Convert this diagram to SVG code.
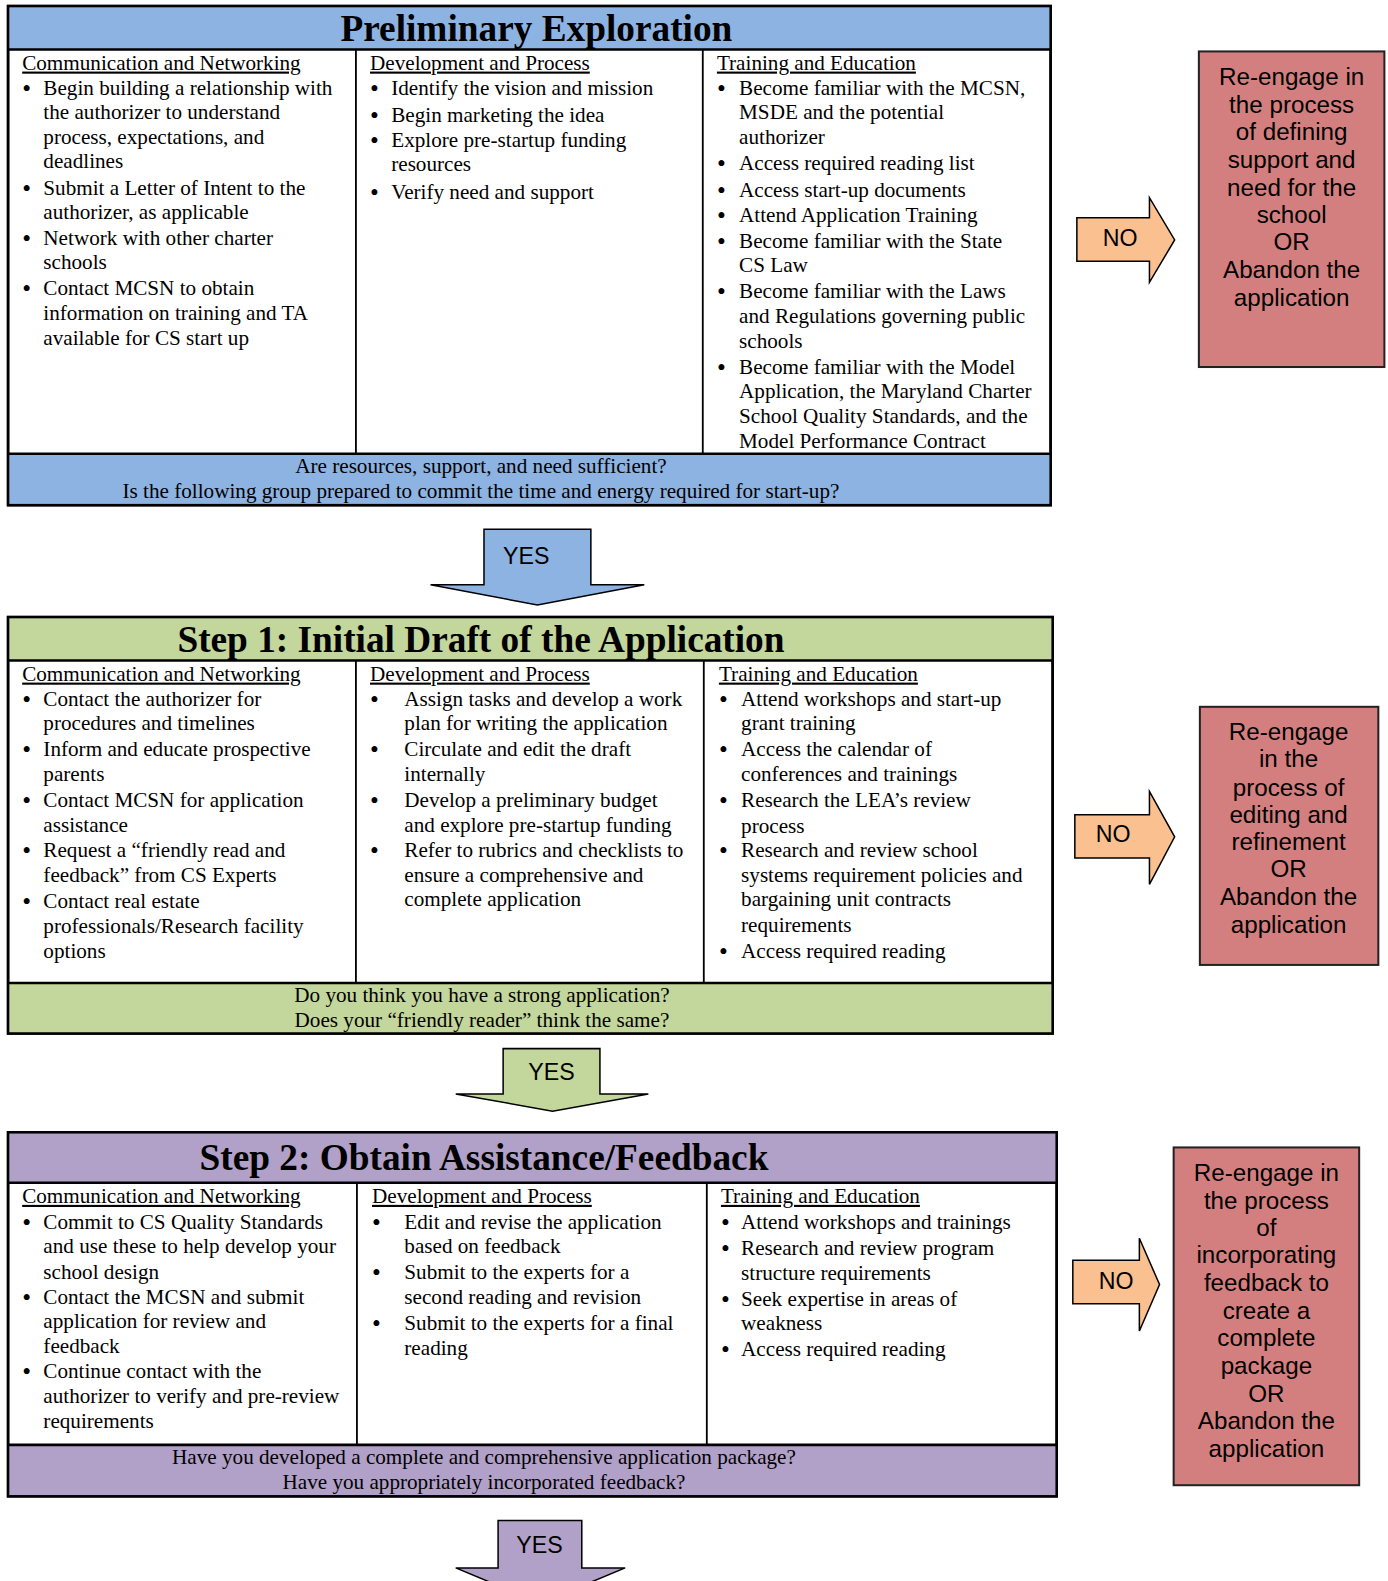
<svg xmlns="http://www.w3.org/2000/svg" width="1388" height="1581" viewBox="0 0 1388 1581">
<style>
.t{font-family:"Liberation Serif","Times New Roman",serif;font-size:21px;fill:#000}
.b{font-family:"Liberation Serif","Times New Roman",serif;font-size:25px;fill:#000}
.h{text-decoration:underline}
.c{text-anchor:middle}
.title{font-family:"Liberation Serif","Times New Roman",serif;font-size:37px;font-weight:bold;text-anchor:middle;fill:#000}
.a{font-family:"Liberation Sans",Arial,sans-serif;font-size:24px;text-anchor:middle;fill:#000}
.lab{font-family:"Liberation Sans",Arial,sans-serif;font-size:23px;text-anchor:middle;fill:#000}
.frame{fill:#fff;stroke:#000;stroke-width:2.5}
.ln{stroke:#000;stroke-width:2.5}
.div{stroke:#000;stroke-width:1.8}
.blue{fill:#8DB3E2}
.green{fill:#C3D69B}
.purple{fill:#B1A0C7}
.red{fill:#D47F7F;stroke:#222;stroke-width:2}
.arr{stroke:#000;stroke-width:1.5;stroke-linejoin:miter}
</style>
<g transform="scale(1.00829)">
<g id="prelim">
<rect class="frame" x="8" y="6" width="1034" height="495"/>
<rect class="blue" x="8" y="6" width="1034" height="43"/>
<rect class="blue" x="8" y="450" width="1034" height="51"/>
<rect x="8" y="6" width="1034" height="495" fill="none" stroke="#000" stroke-width="2.5"/>
<line class="ln" x1="8" y1="49" x2="1042" y2="49"/>
<line class="ln" x1="8" y1="450" x2="1042" y2="450"/>
<line class="div" x1="353" y1="49" x2="353" y2="450"/>
<line class="div" x1="697" y1="49" x2="697" y2="450"/>
<text class="title" x="532" y="41">Preliminary Exploration</text>
<text class="t h" x="22" y="69">Communication and Networking</text>
<text class="b" x="22" y="96">•</text><text class="t" x="43" y="94">Begin building a relationship with</text>
<text class="t" x="43" y="118">the authorizer to understand</text>
<text class="t" x="43" y="143">process, expectations, and</text>
<text class="t" x="43" y="167">deadlines</text>
<text class="b" x="22" y="195">•</text><text class="t" x="43" y="193">Submit a Letter of Intent to the</text>
<text class="t" x="43" y="217">authorizer, as applicable</text>
<text class="b" x="22" y="245">•</text><text class="t" x="43" y="243">Network with other charter</text>
<text class="t" x="43" y="267">schools</text>
<text class="b" x="22" y="295">•</text><text class="t" x="43" y="293">Contact MCSN to obtain</text>
<text class="t" x="43" y="317">information on training and TA</text>
<text class="t" x="43" y="342">available for CS start up</text>

<text class="t h" x="367" y="69">Development and Process</text>
<text class="b" x="367" y="96">•</text><text class="t" x="388" y="94">Identify the vision and mission</text>
<text class="b" x="367" y="123">•</text><text class="t" x="388" y="121">Begin marketing the idea</text>
<text class="b" x="367" y="148">•</text><text class="t" x="388" y="146">Explore pre-startup funding</text>
<text class="t" x="388" y="170">resources</text>
<text class="b" x="367" y="199">•</text><text class="t" x="388" y="197">Verify need and support</text>

<text class="t h" x="711" y="69">Training and Education</text>
<text class="b" x="711" y="96">•</text><text class="t" x="733" y="94">Become familiar with the MCSN,</text>
<text class="t" x="733" y="118">MSDE and the potential</text>
<text class="t" x="733" y="143">authorizer</text>
<text class="b" x="711" y="171">•</text><text class="t" x="733" y="169">Access required reading list</text>
<text class="b" x="711" y="197">•</text><text class="t" x="733" y="195">Access start-up documents</text>
<text class="b" x="711" y="222">•</text><text class="t" x="733" y="220">Attend Application Training</text>
<text class="b" x="711" y="248">•</text><text class="t" x="733" y="246">Become familiar with the State</text>
<text class="t" x="733" y="270">CS Law</text>
<text class="b" x="711" y="298">•</text><text class="t" x="733" y="296">Become familiar with the Laws</text>
<text class="t" x="733" y="320">and Regulations governing public</text>
<text class="t" x="733" y="345">schools</text>
<text class="b" x="711" y="373">•</text><text class="t" x="733" y="371">Become familiar with the Model</text>
<text class="t" x="733" y="395">Application, the Maryland Charter</text>
<text class="t" x="733" y="420">School Quality Standards, and the</text>
<text class="t" x="733" y="444">Model Performance Contract</text>

<text class="t c" x="477" y="469">Are resources, support, and need sufficient?</text>
<text class="t c" x="477" y="494">Is the following group prepared to commit the time and energy required for start-up?</text>
</g>

<g id="step1">
<rect class="frame" x="8" y="612" width="1036" height="413"/>
<rect class="green" x="8" y="612" width="1036" height="43"/>
<rect class="green" x="8" y="975" width="1036" height="50"/>
<rect x="8" y="612" width="1036" height="413" fill="none" stroke="#000" stroke-width="2.5"/>
<line class="ln" x1="8" y1="655" x2="1044" y2="655"/>
<line class="ln" x1="8" y1="975" x2="1044" y2="975"/>
<line class="div" x1="353" y1="655" x2="353" y2="975"/>
<line class="div" x1="698" y1="655" x2="698" y2="975"/>
<text class="title" x="477" y="647">Step 1: Initial Draft of the Application</text>
<text class="t h" x="22" y="675">Communication and Networking</text>
<text class="b" x="22" y="702">•</text><text class="t" x="43" y="700">Contact the authorizer for</text>
<text class="t" x="43" y="724">procedures and timelines</text>
<text class="b" x="22" y="752">•</text><text class="t" x="43" y="750">Inform and educate prospective</text>
<text class="t" x="43" y="775">parents</text>
<text class="b" x="22" y="802">•</text><text class="t" x="43" y="800">Contact MCSN for application</text>
<text class="t" x="43" y="825">assistance</text>
<text class="b" x="22" y="852">•</text><text class="t" x="43" y="850">Request a “friendly read and</text>
<text class="t" x="43" y="875">feedback” from CS Experts</text>
<text class="b" x="22" y="903">•</text><text class="t" x="43" y="901">Contact real estate</text>
<text class="t" x="43" y="925">professionals/Research facility</text>
<text class="t" x="43" y="950">options</text>

<text class="t h" x="367" y="675">Development and Process</text>
<text class="b" x="367" y="702">•</text><text class="t" x="401" y="700">Assign tasks and develop a work</text>
<text class="t" x="401" y="724">plan for writing the application</text>
<text class="b" x="367" y="752">•</text><text class="t" x="401" y="750">Circulate and edit the draft</text>
<text class="t" x="401" y="775">internally</text>
<text class="b" x="367" y="802">•</text><text class="t" x="401" y="800">Develop a preliminary budget</text>
<text class="t" x="401" y="825">and explore pre-startup funding</text>
<text class="b" x="367" y="852">•</text><text class="t" x="401" y="850">Refer to rubrics and checklists to</text>
<text class="t" x="401" y="875">ensure a comprehensive and</text>
<text class="t" x="401" y="899">complete application</text>

<text class="t h" x="713" y="675">Training and Education</text>
<text class="b" x="713" y="702">•</text><text class="t" x="735" y="700">Attend workshops and start-up</text>
<text class="t" x="735" y="724">grant training</text>
<text class="b" x="713" y="752">•</text><text class="t" x="735" y="750">Access the calendar of</text>
<text class="t" x="735" y="775">conferences and trainings</text>
<text class="b" x="713" y="802">•</text><text class="t" x="735" y="800">Research the LEA’s review</text>
<text class="t" x="735" y="826">process</text>
<text class="b" x="713" y="852">•</text><text class="t" x="735" y="850">Research and review school</text>
<text class="t" x="735" y="875">systems requirement policies and</text>
<text class="t" x="735" y="899">bargaining unit contracts</text>
<text class="t" x="735" y="924">requirements</text>
<text class="b" x="713" y="952">•</text><text class="t" x="735" y="950">Access required reading</text>

<text class="t c" x="478" y="994">Do you think you have a strong application?</text>
<text class="t c" x="478" y="1019">Does your “friendly reader” think the same?</text>
</g>

<g id="step2">
<rect class="frame" x="8" y="1123" width="1040" height="361"/>
<rect class="purple" x="8" y="1123" width="1040" height="50"/>
<rect class="purple" x="8" y="1433" width="1040" height="51"/>
<rect x="8" y="1123" width="1040" height="361" fill="none" stroke="#000" stroke-width="2.5"/>
<line class="ln" x1="8" y1="1173" x2="1048" y2="1173"/>
<line class="ln" x1="8" y1="1433" x2="1048" y2="1433"/>
<line class="div" x1="354" y1="1173" x2="354" y2="1433"/>
<line class="div" x1="701" y1="1173" x2="701" y2="1433"/>
<text class="title" x="480" y="1160">Step 2: Obtain Assistance/Feedback</text>
<text class="t h" x="22" y="1193">Communication and Networking</text>
<text class="b" x="22" y="1221">•</text><text class="t" x="43" y="1219">Commit to CS Quality Standards</text>
<text class="t" x="43" y="1243">and use these to help develop your</text>
<text class="t" x="43" y="1268">school design</text>
<text class="b" x="22" y="1295">•</text><text class="t" x="43" y="1293">Contact the MCSN and submit</text>
<text class="t" x="43" y="1317">application for review and</text>
<text class="t" x="43" y="1342">feedback</text>
<text class="b" x="22" y="1369">•</text><text class="t" x="43" y="1367">Continue contact with the</text>
<text class="t" x="43" y="1391">authorizer to verify and pre-review</text>
<text class="t" x="43" y="1416">requirements</text>

<text class="t h" x="369" y="1193">Development and Process</text>
<text class="b" x="369" y="1221">•</text><text class="t" x="401" y="1219">Edit and revise the application</text>
<text class="t" x="401" y="1243">based on feedback</text>
<text class="b" x="369" y="1270">•</text><text class="t" x="401" y="1268">Submit to the experts for a</text>
<text class="t" x="401" y="1293">second reading and revision</text>
<text class="b" x="369" y="1321">•</text><text class="t" x="401" y="1319">Submit to the experts for a final</text>
<text class="t" x="401" y="1344">reading</text>

<text class="t h" x="715" y="1193">Training and Education</text>
<text class="b" x="715" y="1221">•</text><text class="t" x="735" y="1219">Attend workshops and trainings</text>
<text class="b" x="715" y="1247">•</text><text class="t" x="735" y="1245">Research and review program</text>
<text class="t" x="735" y="1269">structure requirements</text>
<text class="b" x="715" y="1297">•</text><text class="t" x="735" y="1295">Seek expertise in areas of</text>
<text class="t" x="735" y="1319">weakness</text>
<text class="b" x="715" y="1347">•</text><text class="t" x="735" y="1345">Access required reading</text>

<text class="t c" x="480" y="1452">Have you developed a complete and comprehensive application package?</text>
<text class="t c" x="480" y="1477">Have you appropriately incorporated feedback?</text>
</g>

<g id="reengage1">
<rect class="red" x="1189" y="51" width="184" height="313"/>
<text class="a" x="1281" y="84">Re-engage in</text>
<text class="a" x="1281" y="112">the process</text>
<text class="a" x="1281" y="139">of defining</text>
<text class="a" x="1281" y="167">support and</text>
<text class="a" x="1281" y="194">need for the</text>
<text class="a" x="1281" y="221">school</text>
<text class="a" x="1281" y="248">OR</text>
<text class="a" x="1281" y="276">Abandon the</text>
<text class="a" x="1281" y="303">application</text>
</g>

<g id="reengage2">
<rect class="red" x="1190" y="701" width="177" height="256"/>
<text class="a" x="1278" y="734">Re-engage</text>
<text class="a" x="1278" y="761">in the</text>
<text class="a" x="1278" y="789">process of</text>
<text class="a" x="1278" y="816">editing and</text>
<text class="a" x="1278" y="843">refinement</text>
<text class="a" x="1278" y="870">OR</text>
<text class="a" x="1278" y="898">Abandon the</text>
<text class="a" x="1278" y="925">application</text>
</g>

<g id="reengage3">
<rect class="red" x="1164" y="1138" width="184" height="335"/>
<text class="a" x="1256" y="1171">Re-engage in</text>
<text class="a" x="1256" y="1199">the process</text>
<text class="a" x="1256" y="1226">of</text>
<text class="a" x="1256" y="1253">incorporating</text>
<text class="a" x="1256" y="1280">feedback to</text>
<text class="a" x="1256" y="1308">create a</text>
<text class="a" x="1256" y="1335">complete</text>
<text class="a" x="1256" y="1363">package</text>
<text class="a" x="1256" y="1390">OR</text>
<text class="a" x="1256" y="1417">Abandon the</text>
<text class="a" x="1256" y="1445">application</text>
</g>

<g id="connectors">
<path class="arr" fill="#8DB3E2" d="M480,525 H586 V580 H639 L533,600 L427,580 H480 Z"/>
<text class="lab" x="522" y="559">YES</text>
<path class="arr" fill="#C3D69B" d="M499,1040 H595 V1085 H643 L548,1102 L452,1085 H499 Z"/>
<text class="lab" x="547" y="1071">YES</text>
<path class="arr" fill="#B1A0C7" d="M494,1508 H577 V1555 H620 L536,1590 L452,1555 H494 Z"/>
<text class="lab" x="535" y="1540">YES</text>
<path class="arr" fill="#FAC090" d="M1068,216 H1140 V196 L1165,238 L1140,280 V259 H1068 Z"/>
<text class="lab" x="1111" y="244">NO</text>
<path class="arr" fill="#FAC090" d="M1066,808 H1140 V785 L1165,830 L1140,877 V851 H1066 Z"/>
<text class="lab" x="1104" y="835">NO</text>
<path class="arr" fill="#FAC090" d="M1064,1250 H1130 V1228 L1150,1274 L1130,1320 V1293 H1064 Z"/>
<text class="lab" x="1107" y="1278">NO</text>
</g>
</g>
</svg>
